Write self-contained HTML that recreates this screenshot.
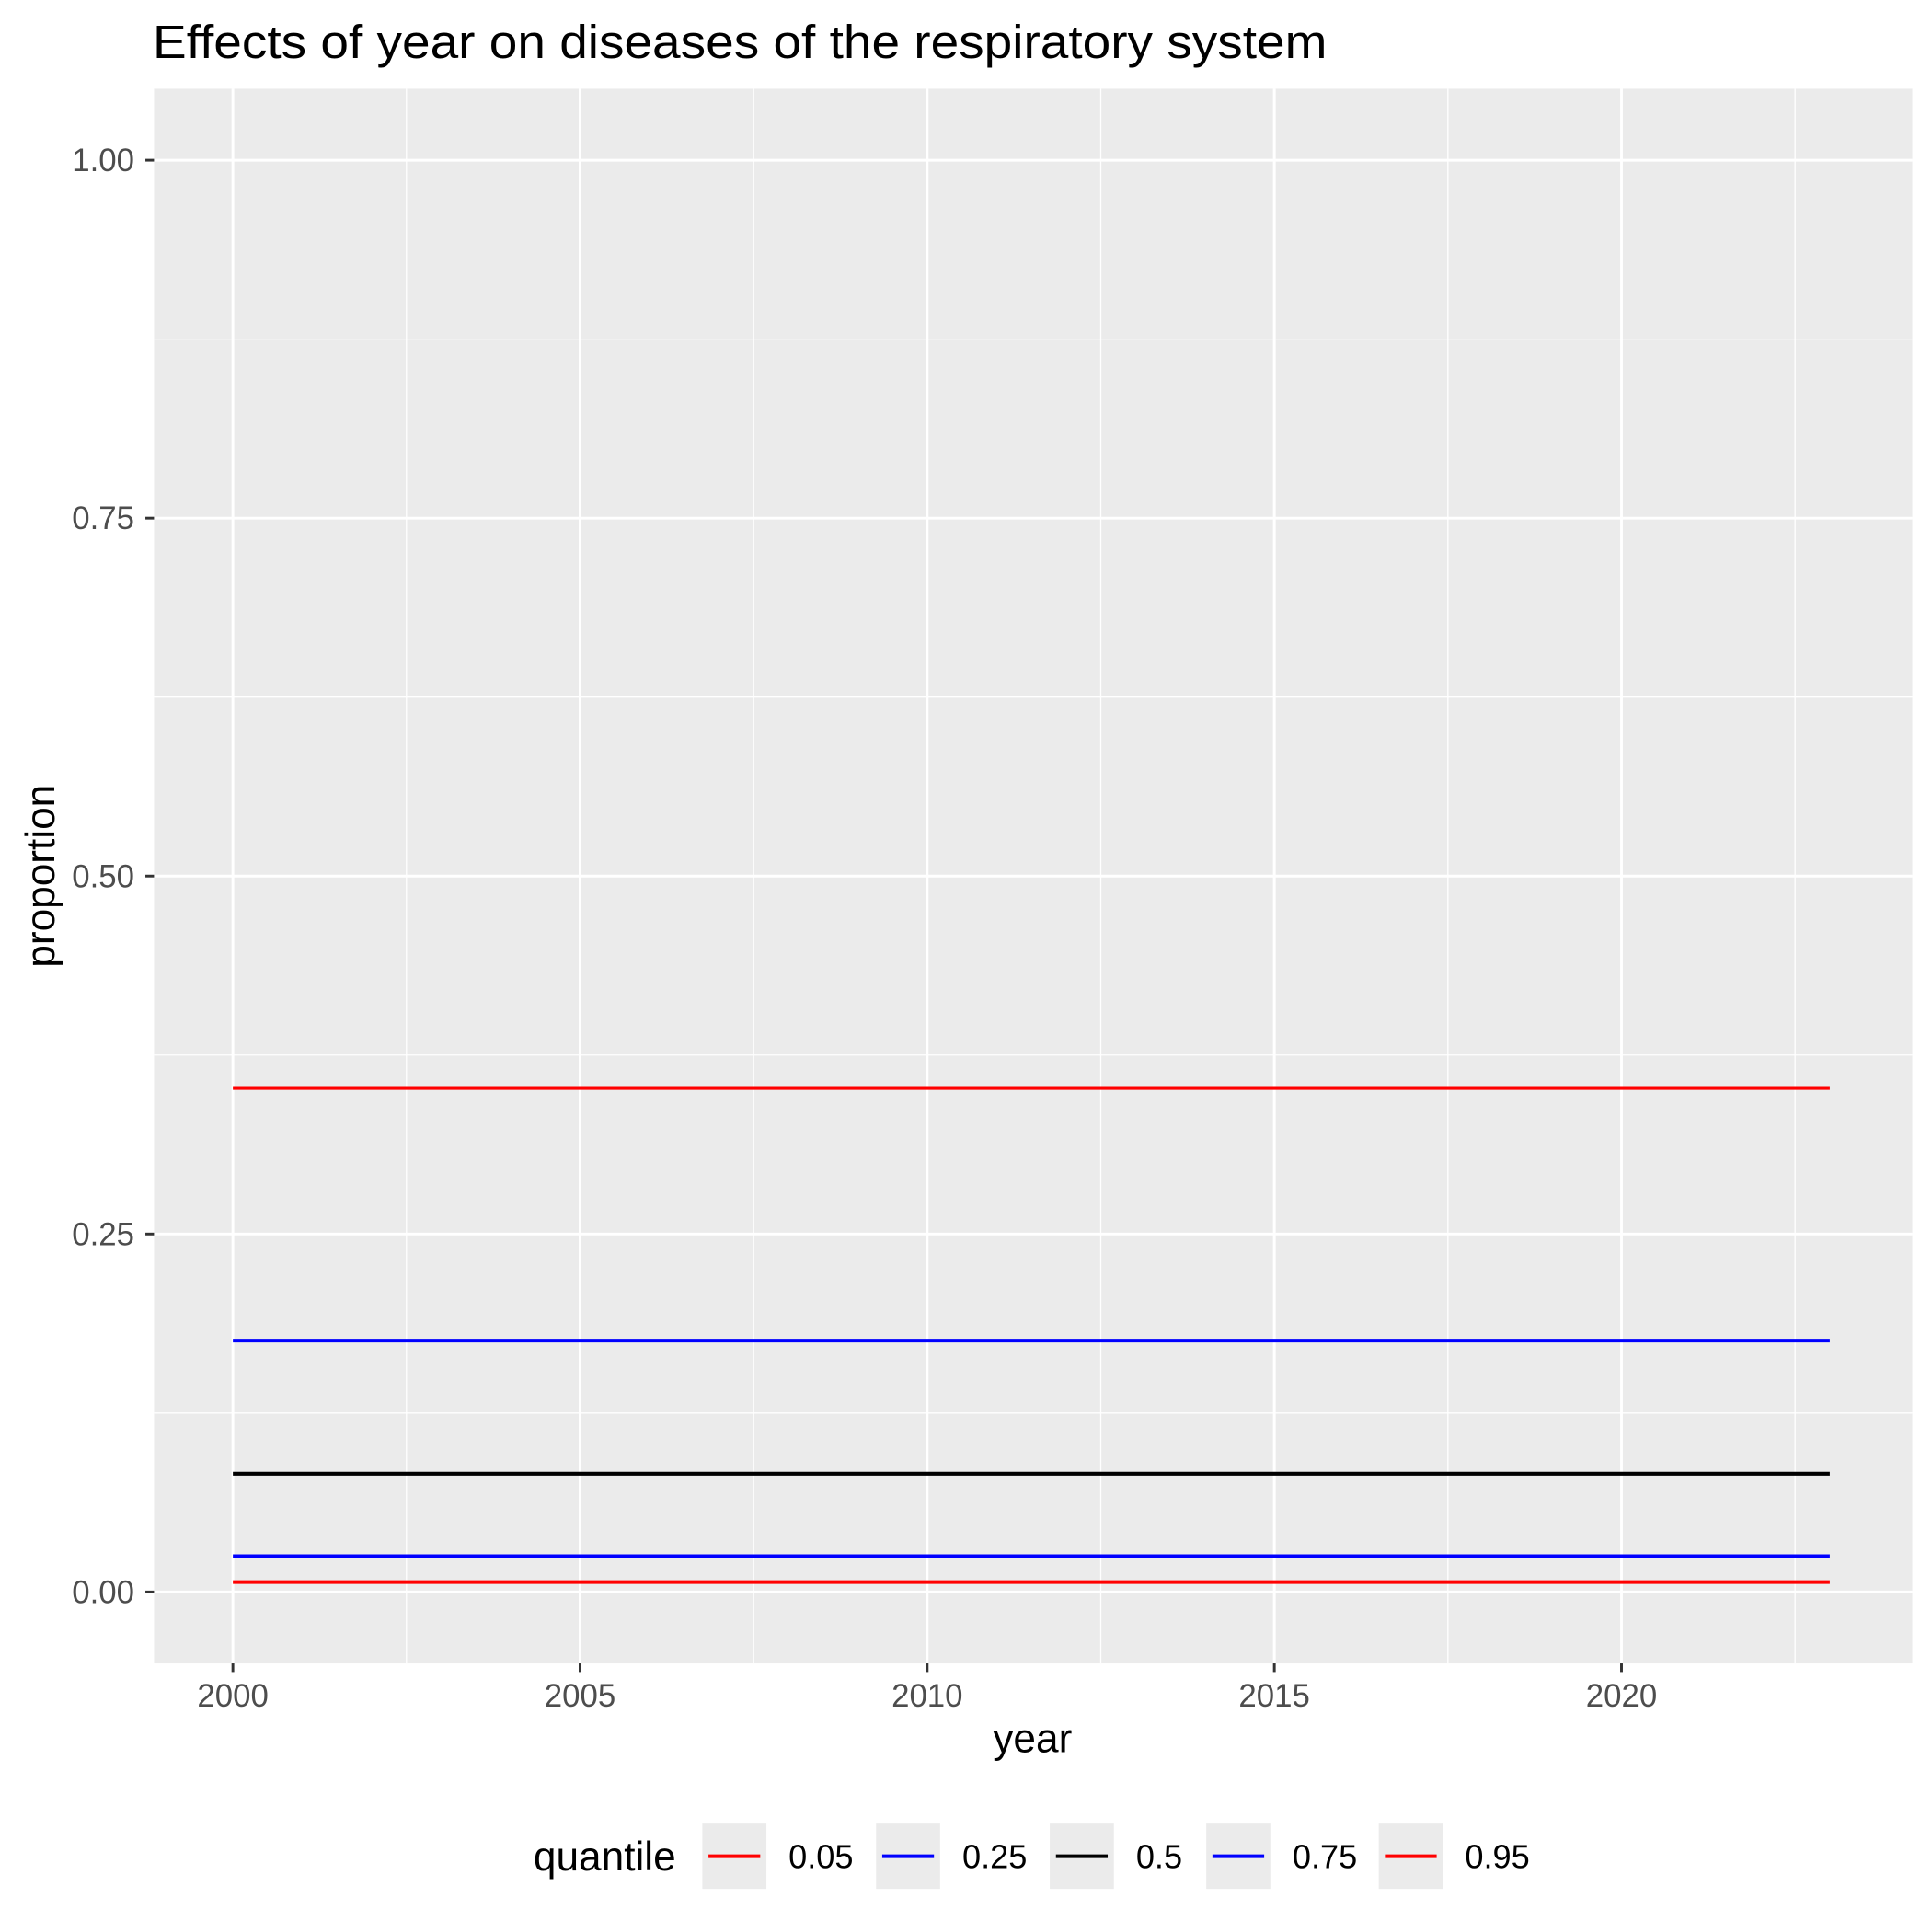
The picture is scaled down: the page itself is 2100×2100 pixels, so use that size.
<!DOCTYPE html>
<html><head><meta charset="utf-8"><style>html,body{margin:0;padding:0;background:#fff}svg{display:block}text{font-family:"Liberation Sans",Arial,sans-serif}</style></head>
<body>
<svg id="chart" width="2100" height="2100" viewBox="0 0 1568 1568" xmlns="http://www.w3.org/2000/svg">
<rect width="1568" height="1568" fill="#fff"/>
<text x="124" y="47" font-size="38" fill="#000" textLength="953" lengthAdjust="spacingAndGlyphs">Effects of year on diseases of the respiratory system</text>
<rect x="125" y="72" width="1427" height="1278" fill="#ebebeb"/>
<g id="grid"></g>
<g id="axes"></g>
<g id="series"></g>
<text x="838" y="1422" font-size="33" text-anchor="middle">year</text>
<text transform="translate(44,711) rotate(-90)" font-size="33" text-anchor="middle">proportion</text>
<g id="legend">
<text x="433" y="1518" font-size="33">quantile</text>
</g>
</svg>
<script>
const quantiles = ["0.05","0.25","0.5","0.75","0.95"];
const qValues = [0.0069, 0.025, 0.0826, 0.1756, 0.352];
const qColors = ["#ff0000","#0000ff","#000000","#0000ff","#ff0000"];
const years = [2000, 2023];
const xTicks = [2000, 2005, 2010, 2015, 2020];
const yTicks = [0, 0.25, 0.5, 0.75, 1.0];
const yTickLabels = ["0.00","0.25","0.50","0.75","1.00"];

const NS = "http://www.w3.org/2000/svg";
const xs = v => 189 + (v - 2000) * (1316 - 189) / 20;
const ys = v => 1292 - v * (1292 - 130);
function mk(tag, attrs, parent) {
  const e = document.createElementNS(NS, tag);
  for (const k in attrs) e.setAttribute(k, attrs[k]);
  parent.appendChild(e);
  return e;
}
const grid = document.getElementById("grid");
const axes = document.getElementById("axes");
const series = document.getElementById("series");
const legend = document.getElementById("legend");
const L = 125, R = 1552, T = 72, B = 1350;
for (let i = 0; i < xTicks.length; i++) {
  const m = xTicks[i] + 2.5;
  if (xs(m) < R) {
    const g = mk("line", {x1: xs(m), x2: xs(m), y1: T, y2: B, stroke: "#fff", "stroke-width": 1}, grid);
    
    
  }
}
for (let i = 0; i < yTicks.length - 1; i++) {
  const m = (yTicks[i] + yTicks[i + 1]) / 2;
  const g = mk("line", {x1: L, x2: R, y1: ys(m), y2: ys(m), stroke: "#fff", "stroke-width": 1}, grid);
  
  
}
xTicks.forEach(t => {
  const g = mk("line", {x1: xs(t), x2: xs(t), y1: T, y2: B, stroke: "#fff", "stroke-width": 2.2}, grid);
  
  
  const tk = mk("line", {x1: xs(t), x2: xs(t), y1: B, y2: B + 7, stroke: "#333", "stroke-width": 2.2}, axes);
  
  
  const tx = mk("text", {x: xs(t), y: B + 35, "font-size": 26, fill: "#4d4d4d", "text-anchor": "middle"}, axes);
  tx.textContent = t;
  
  
});
yTicks.forEach((t, i) => {
  const g = mk("line", {x1: L, x2: R, y1: ys(t), y2: ys(t), stroke: "#fff", "stroke-width": 2.2}, grid);
  
  
  const tk = mk("line", {x1: L - 7, x2: L, y1: ys(t), y2: ys(t), stroke: "#333", "stroke-width": 2.2}, axes);
  
  
  const tx = mk("text", {x: L - 16, y: ys(t) + 9, "font-size": 26, fill: "#4d4d4d", "text-anchor": "end"}, axes);
  tx.textContent = yTickLabels[i];
  
  
});
quantiles.forEach((q, i) => {
  const ln = mk("line", {x1: xs(years[0]), x2: xs(years[1]), y1: ys(qValues[i]), y2: ys(qValues[i]), stroke: qColors[i], "stroke-width": 3}, series);
  
  
});
const keyX = [570, 711, 852, 979, 1119];
quantiles.forEach((q, i) => {
  const bx = mk("rect", {x: keyX[i], y: 1480, width: 52, height: 53, fill: "#ebebeb"}, legend);
  
  
  const ln = mk("line", {x1: keyX[i] + 5, x2: keyX[i] + 47, y1: 1506.5, y2: 1506.5, stroke: qColors[i], "stroke-width": 3}, legend);
  
  
  const tx = mk("text", {x: keyX[i] + 70, y: 1516, "font-size": 27, fill: "#000"}, legend);
  tx.textContent = q;
  
  
});
</script>
</body></html>
